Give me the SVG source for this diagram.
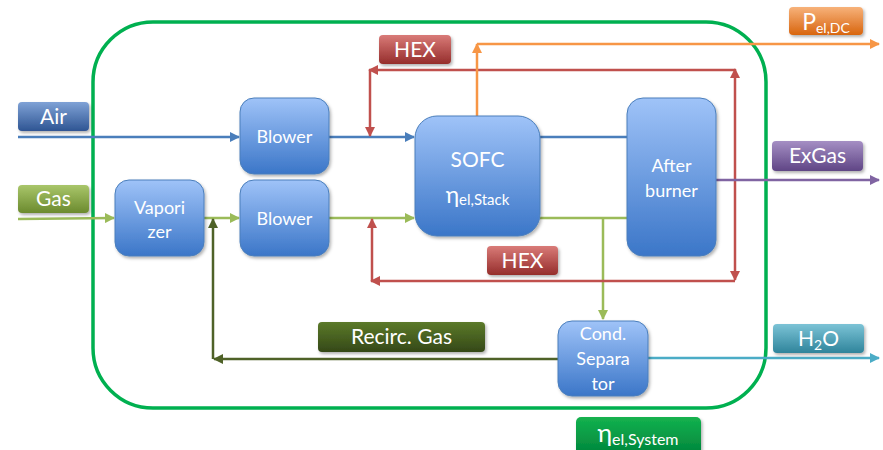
<svg xmlns="http://www.w3.org/2000/svg" width="883" height="450" viewBox="0 0 883 450">
<defs>
  <linearGradient id="gBlock" x1="0" y1="0" x2="0" y2="1"><stop offset="0" stop-color="#9fc3f8"/><stop offset="1" stop-color="#3b76c8"/></linearGradient>
  <linearGradient id="gAir" x1="0" y1="0" x2="0" y2="1"><stop offset="0" stop-color="#7fa2d6"/><stop offset="1" stop-color="#2f5593"/></linearGradient>
  <linearGradient id="gGas" x1="0" y1="0" x2="0" y2="1"><stop offset="0" stop-color="#a9c66a"/><stop offset="1" stop-color="#6b8a2e"/></linearGradient>
  <linearGradient id="gHex" x1="0" y1="0" x2="0" y2="1"><stop offset="0" stop-color="#d97b78"/><stop offset="1" stop-color="#952d2b"/></linearGradient>
  <linearGradient id="gP" x1="0" y1="0" x2="0" y2="1"><stop offset="0" stop-color="#f7b27a"/><stop offset="1" stop-color="#d8650f"/></linearGradient>
  <linearGradient id="gEx" x1="0" y1="0" x2="0" y2="1"><stop offset="0" stop-color="#a58fc4"/><stop offset="1" stop-color="#5f4585"/></linearGradient>
  <linearGradient id="gH2o" x1="0" y1="0" x2="0" y2="1"><stop offset="0" stop-color="#7cc3d6"/><stop offset="1" stop-color="#2e849b"/></linearGradient>
  <linearGradient id="gRec" x1="0" y1="0" x2="0" y2="1"><stop offset="0" stop-color="#5c7a2a"/><stop offset="1" stop-color="#344817"/></linearGradient>
  <linearGradient id="gSys" x1="0" y1="0" x2="0" y2="1"><stop offset="0" stop-color="#14b24f"/><stop offset="1" stop-color="#00823a"/></linearGradient>
  <filter id="sh" x="-10%" y="-10%" width="130%" height="130%"><feDropShadow dx="1.5" dy="2" stdDeviation="1.5" flood-color="#000" flood-opacity="0.3"/></filter>
  <marker id="aBlue" viewBox="0 0 10 10" refX="9" refY="5" markerWidth="4" markerHeight="4" orient="auto"><path d="M0,0 L10,5 L0,10 z" fill="#4a7ebb"/></marker>
  <marker id="aGreen" viewBox="0 0 10 10" refX="9" refY="5" markerWidth="4" markerHeight="4" orient="auto"><path d="M0,0 L10,5 L0,10 z" fill="#9bbb59"/></marker>
  <marker id="aRed" viewBox="0 0 10 10" refX="9" refY="5" markerWidth="4" markerHeight="4" orient="auto"><path d="M0,0 L10,5 L0,10 z" fill="#c0504d"/></marker>
  <marker id="aOrange" viewBox="0 0 10 10" refX="9" refY="5" markerWidth="4" markerHeight="4" orient="auto"><path d="M0,0 L10,5 L0,10 z" fill="#f79646"/></marker>
  <marker id="aPurple" viewBox="0 0 10 10" refX="9" refY="5" markerWidth="4" markerHeight="4" orient="auto"><path d="M0,0 L10,5 L0,10 z" fill="#8064a2"/></marker>
  <marker id="aTeal" viewBox="0 0 10 10" refX="9" refY="5" markerWidth="4" markerHeight="4" orient="auto"><path d="M0,0 L10,5 L0,10 z" fill="#4bacc6"/></marker>
  <marker id="aOlive" viewBox="0 0 10 10" refX="9" refY="5" markerWidth="4" markerHeight="4" orient="auto"><path d="M0,0 L10,5 L0,10 z" fill="#4f6228"/></marker>
</defs>
<style>
  text { font-family: Lato, "Open Sans", "Liberation Sans", sans-serif; fill: #ffffff; text-anchor: middle; }
  .blk { fill: url(#gBlock); stroke: #4a7ebb; stroke-width: 1; filter: url(#sh); }
  .bt { font-size: 18px; }
  .lt { font-size: 21px; }
  .ln { fill: none; stroke-width: 2.5; }
  .blue { stroke: #4a7ebb; }
  .green { stroke: #9bbb59; }
  .red { stroke: #c0504d; }
  .orange { stroke: #f79646; }
  .purple { stroke: #8064a2; }
  .teal { stroke: #4bacc6; }
  .olive { stroke: #4f6228; }
</style>

<rect id="system-boundary" x="93" y="22" width="673" height="386" rx="60" ry="60" fill="none" stroke="#00b050" stroke-width="3.5"/>

<g id="connectors">
  <line class="ln blue" x1="18" y1="137" x2="239" y2="137" marker-end="url(#aBlue)"/>
  <line class="ln blue" x1="329" y1="137" x2="414" y2="137" marker-end="url(#aBlue)"/>
  <line class="ln blue" x1="540" y1="137" x2="627" y2="137"/>
  <line class="ln green" x1="18" y1="219" x2="114" y2="218" marker-end="url(#aGreen)"/>
  <line class="ln green" x1="204" y1="218" x2="239" y2="218" marker-end="url(#aGreen)"/>
  <line class="ln green" x1="329" y1="218" x2="414" y2="218" marker-end="url(#aGreen)"/>
  <line class="ln green" x1="540" y1="218" x2="627" y2="218"/>
  <line class="ln green" x1="603" y1="218" x2="603" y2="319" marker-end="url(#aGreen)"/>
  <line class="ln red" x1="735" y1="176" x2="735" y2="69" marker-end="url(#aRed)"/>
  <line class="ln red" x1="735" y1="176" x2="735" y2="280" marker-end="url(#aRed)"/>
  <line class="ln red" x1="735" y1="70" x2="369" y2="70" marker-end="url(#aRed)"/>
  <line class="ln red" x1="370" y1="70" x2="370" y2="136" marker-end="url(#aRed)"/>
  <line class="ln red" x1="735" y1="281" x2="371" y2="281" marker-end="url(#aRed)"/>
  <line class="ln red" x1="372" y1="281" x2="372" y2="219" marker-end="url(#aRed)"/>
  <line class="ln orange" x1="477" y1="116" x2="477" y2="44" marker-end="url(#aOrange)"/>
  <line class="ln orange" x1="477" y1="44" x2="879" y2="44" marker-end="url(#aOrange)"/>
  <line class="ln purple" x1="716" y1="180" x2="879" y2="180" marker-end="url(#aPurple)"/>
  <line class="ln teal" x1="648" y1="358" x2="879" y2="358" marker-end="url(#aTeal)"/>
  <line class="ln olive" x1="558" y1="359" x2="214" y2="359" marker-end="url(#aOlive)"/>
  <line class="ln olive" x1="213" y1="359" x2="213" y2="219" marker-end="url(#aOlive)"/>
</g>

<g id="blower1"><rect class="blk" x="240" y="98" width="89" height="76" rx="14"/><text class="bt" x="284.5" y="143">Blower</text></g>
<g id="blower2"><rect class="blk" x="240" y="180" width="89" height="76" rx="14"/><text class="bt" x="284.5" y="225">Blower</text></g>
<g id="vaporizer"><rect class="blk" x="115" y="180" width="89" height="76" rx="14"/><text class="bt" x="159.5" y="214">Vapori</text><text class="bt" x="159.5" y="238">zer</text></g>
<g id="sofc"><rect class="blk" x="415" y="116" width="125" height="120" rx="22"/><text x="477.5" y="167" font-size="21">SOFC</text><text x="477.5" y="203" font-size="23">η<tspan font-size="15" dy="2">el,Stack</tspan></text></g>
<g id="afterburner"><rect class="blk" x="627" y="98" width="89" height="158" rx="16"/><text class="bt" x="671.5" y="172">After</text><text class="bt" x="671.5" y="197">burner</text></g>
<g id="cond-separator"><rect class="blk" x="558" y="321" width="90" height="75" rx="14"/><text class="bt" x="603" y="340">Cond.</text><text class="bt" x="603" y="365">Separa</text><text class="bt" x="603" y="390">tor</text></g>

<g id="label-air"><rect x="18" y="102" width="71" height="29" rx="4" fill="url(#gAir)" filter="url(#sh)"/><text class="lt" x="53.5" y="124">Air</text></g>
<g id="label-gas"><rect x="18" y="185" width="71" height="28" rx="4" fill="url(#gGas)" filter="url(#sh)"/><text class="lt" x="53.5" y="206">Gas</text></g>
<g id="label-hex-top"><rect x="379" y="35" width="72" height="29" rx="4" fill="url(#gHex)" filter="url(#sh)"/><text class="lt" x="415" y="57">HEX</text></g>
<g id="label-hex-bottom"><rect x="487" y="246" width="71" height="29" rx="4" fill="url(#gHex)" filter="url(#sh)"/><text class="lt" x="522.5" y="268">HEX</text></g>
<g id="label-pel"><rect x="789" y="7" width="74" height="28" rx="4" fill="url(#gP)" filter="url(#sh)"/><text x="826" y="30" font-size="23">P<tspan font-size="14" dy="3">el,DC</tspan></text></g>
<g id="label-exgas"><rect x="772" y="141" width="91" height="30" rx="4" fill="url(#gEx)" filter="url(#sh)"/><text class="lt" x="817.5" y="163">ExGas</text></g>
<g id="label-h2o"><rect x="773" y="324" width="91" height="29" rx="4" fill="url(#gH2o)" filter="url(#sh)"/><text class="lt" x="818.5" y="346">H<tspan font-size="14" dy="4">2</tspan><tspan dy="-4">O</tspan></text></g>
<g id="label-recirc"><rect x="318" y="322" width="167" height="30" rx="4" fill="url(#gRec)" filter="url(#sh)"/><text class="lt" x="401.5" y="344">Recirc. Gas</text></g>
<g id="label-system"><rect x="576" y="417" width="125" height="40" rx="5" fill="url(#gSys)" filter="url(#sh)"/><text x="638" y="442" font-size="25">η<tspan font-size="16" dy="3">el,System</tspan></text></g>
</svg>
